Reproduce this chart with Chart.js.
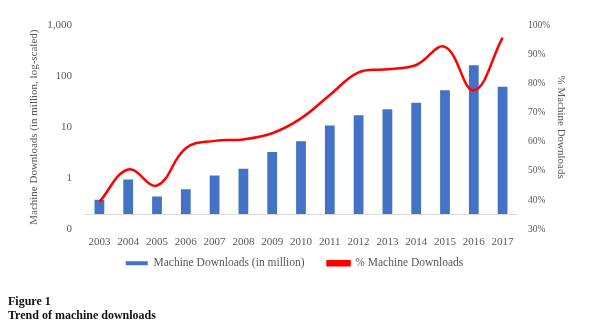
<!DOCTYPE html>
<html>
<head>
<meta charset="utf-8">
<script src="https://cdn.jsdelivr.net/npm/chart.js@4"></script>
<style>
  html, body { margin: 0; padding: 0; background: #fff; }
  #wrap { position: absolute; left: 0; top: 0; width: 589px; height: 300px; }
  .caption { position: absolute; left: 8px; font: bold 12px "Liberation Serif", serif; color: #111; }
</style>
</head>
<body>
<div id="wrap"><canvas id="downloadsChart" width="589" height="300"></canvas></div>
<div class="caption" style="top:294px">Figure 1</div>
<div class="caption" style="top:308px">Trend of machine downloads</div>
<script>
const years = ['2003', '2004', '2005', '2006', '2007', '2008', '2009', '2010', '2011', '2012', '2013', '2014', '2015', '2016', '2017'];
// millions, log axis
const machineDownloads = [0.38, 0.94, 0.44, 0.61, 1.13, 1.53, 3.25, 5.3, 10.8, 17.1, 22.5, 30, 53, 163, 62];
// share of downloads by machines (%)
const machineShare = [39.4, 50.5, 45, 57.8, 60.3, 60.8, 62.9, 68, 76, 83.8, 84.8, 86.3, 92.5, 77.6, 95.7];
const leftTicks = [0.1, 1, 10, 100, 1000];

const grey = '#595959';
const serif = '"Liberation Serif", "Times New Roman", serif';

// excel draws the category axis where it crosses the log axis, not at the bottom
const axisLine = {
    id: 'axisLine',
    afterDatasetsDraw(chart) {
        const y = chart.scales.y.getPixelForValue(0.2);
        const c = chart.ctx;
        c.save();
        c.strokeStyle = '#d9d9d9';
        c.lineWidth = 1;
        c.beginPath();
        c.moveTo(chart.chartArea.left, Math.round(y) + 0.5);
        c.lineTo(chart.chartArea.right, Math.round(y) + 0.5);
        c.stroke();
        c.restore();
    }
};

// wide gap between legend items means big label padding, so pull the legend back up
const legendShift = {
    id: 'legendShift',
    afterLayout(chart) {
        chart.legend.top -= 20;
        chart.legend.bottom -= 20;
    }
};

const ctx = document.getElementById('downloadsChart').getContext('2d');
const downloadsChart = new Chart(ctx, {
    type: 'bar',
    data: {
        labels: years,
        datasets: [{
            label: 'Machine Downloads (in million)',
            data: machineDownloads,
            backgroundColor: '#4472C4',
            base: 0.2,
            yAxisID: 'y',
            order: 2,
            categoryPercentage: 1,
            barPercentage: 0.34
        }, {
            type: 'line',
            label: '% Machine Downloads',
            data: machineShare,
            borderColor: '#ff0000',
            backgroundColor: '#ff0000',
            borderWidth: 2.5,
            pointRadius: 0,
            tension: 0.4,
            yAxisID: 'y1',
            order: 1
        }]
    },
    options: {
        responsive: false,
        animation: false,
        layout: { padding: { top: 25, left: 0, right: 0, bottom: 1 } },
        plugins: {
            legend: {
                position: 'bottom',
                labels: {
                    boxWidth: 22,
                    boxHeight: 4,
                    padding: 23,
                    color: grey,
                    font: { family: serif, size: 11.5 },
                    sort: (a, b) => a.datasetIndex - b.datasetIndex
                }
            },
            tooltip: { enabled: false }
        },
        scales: {
            x: {
                grid: { display: false, drawTicks: false },
                border: { display: false },
                ticks: { color: grey, font: { family: serif, size: 11 }, padding: 6, maxRotation: 0 }
            },
            y: {
                type: 'logarithmic',
                position: 'left',
                min: 0.1,
                max: 1000,
                grid: { display: false, drawTicks: false },
                border: { display: false },
                afterBuildTicks: (scale) => { scale.ticks = leftTicks.map(v => ({ value: v })); },
                afterFit: (scale) => { scale.width = 85; },
                ticks: {
                    color: grey,
                    font: { family: serif, size: 11 },
                    padding: 13,
                    callback: (v) => v < 1 ? '0' : Number(v).toLocaleString('en-US')
                },
                title: {
                    display: true,
                    text: 'Machine Downloads (in million, log-scaled)',
                    color: grey,
                    font: { family: serif, size: 11 },
                    padding: { top: 28, bottom: 0 }
                }
            },
            y1: {
                position: 'right',
                min: 30,
                max: 100,
                grid: { display: false, drawTicks: false },
                border: { display: false },
                afterFit: (scale) => { scale.width = 72; },
                ticks: {
                    stepSize: 10,
                    color: grey,
                    font: { family: serif, size: 9.5 },
                    padding: 11,
                    callback: (v) => v + '%'
                },
                title: {
                    display: true,
                    text: '% Machine Downloads',
                    color: grey,
                    font: { family: serif, size: 11 },
                    padding: { top: 22, bottom: 0 }
                }
            }
        }
    },
    plugins: [axisLine, legendShift]
});
</script>
</body>
</html>
